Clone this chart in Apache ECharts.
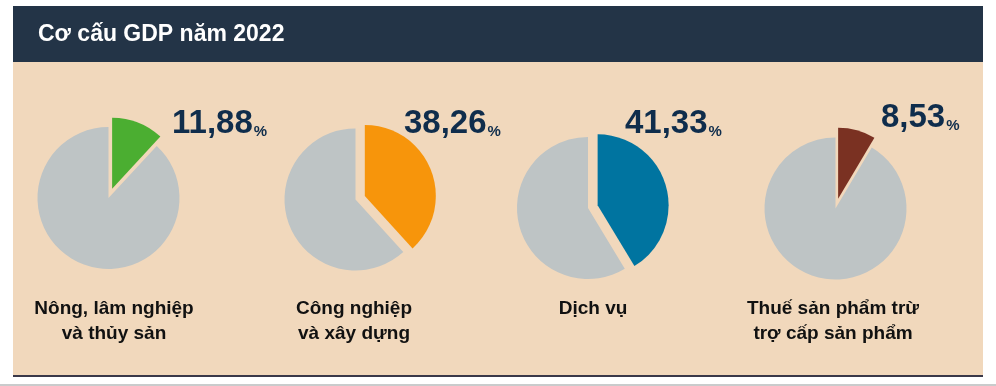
<!DOCTYPE html>
<html>
<head>
<meta charset="utf-8">
<script src="https://cdn.jsdelivr.net/npm/echarts@6/dist/echarts.min.js"></script>
<style>
html,body{margin:0;padding:0;background:#ffffff;}
#chart{width:996px;height:386px;}
</style>
</head>
<body>
<div id="chart"></div>
<script>
const chartTitle = 'Cơ cấu GDP năm 2022';
const categories = ['Nông, lâm nghiệp\nvà thủy sản', 'Công nghiệp\nvà xây dựng', 'Dịch vụ', 'Thuế sản phẩm trừ\ntrợ cấp sản phẩm'];
const shares = [11.88, 38.26, 41.33, 8.53];
const shareLabels = ['11,88', '38,26', '41,33', '8,53'];

const sliceColors = ['#4bae31', '#f7950b', '#0074a0', '#7a3122'];
const restColor = '#bec4c5';
const pieCenters = [[108.5, 198], [355.5, 199.5], [588, 208], [835.5, 208.5]];
const valuePos = [[167, 99], [399, 99], [620, 99], [876, 93]];
const labelX = [109, 349, 588, 828];

const chart = echarts.init(document.getElementById('chart'), null, {renderer: 'canvas'});

const titles = [{
  text: chartTitle,
  left: 33, top: 18,
  textStyle: {color: '#ffffff', fontSize: 23, fontWeight: 'bold', fontFamily: 'Liberation Sans, Arial, sans-serif'}
}];
categories.forEach((c, i) => {
  titles.push({
    text: c, left: labelX[i], top: 291, textAlign: 'center',
    textStyle: {color: '#111111', fontSize: 19, fontWeight: 'bold', lineHeight: 25, fontFamily: 'Liberation Sans, Arial, sans-serif'}
  });
});
shareLabels.forEach((s, i) => {
  titles.push({
    text: '{a|' + s + '}{b|%}', left: valuePos[i][0], top: valuePos[i][1],
    textStyle: {
      rich: {
        a: {color: '#0f2d4c', fontSize: 33, fontWeight: 'bold', lineHeight: 40, fontFamily: 'Liberation Sans, Arial, sans-serif'},
        b: {color: '#0f2d4c', fontSize: 15, lineHeight: 40, verticalAlign: 'bottom', padding: [0, 0, 5, 1], fontFamily: 'Liberation Sans, Arial, sans-serif'}
      }
    }
  });
});

const series = shares.map((v, i) => ({
  type: 'pie',
  center: pieCenters[i],
  radius: 71,
  startAngle: 90,
  clockwise: true,
  selectedMode: 'single',
  selectedOffset: 10,
  animation: false,
  silent: true,
  label: {show: false},
  labelLine: {show: false},
  emphasis: {disabled: true},
  data: [
    {value: v, name: categories[i], selected: true, itemStyle: {color: sliceColors[i]}},
    {value: +(100 - v).toFixed(2), name: 'khác', itemStyle: {color: restColor}}
  ]
}));

chart.setOption({
  animation: false,
  backgroundColor: '#ffffff',
  graphic: [
    {type: 'rect', shape: {x: 13, y: 6, width: 970, height: 370}, style: {fill: '#f1d8bc'}, z: -10},
    {type: 'rect', shape: {x: 13, y: 6, width: 970, height: 56}, style: {fill: '#233447'}, z: -9},
    {type: 'rect', shape: {x: 13, y: 375, width: 970, height: 2}, style: {fill: '#3a3848'}, z: -9},
    {type: 'rect', shape: {x: 0, y: 384, width: 996, height: 2}, style: {fill: '#c9cbcc'}, z: -9}
  ],
  title: titles,
  series: series
});
</script>
</body>
</html>
